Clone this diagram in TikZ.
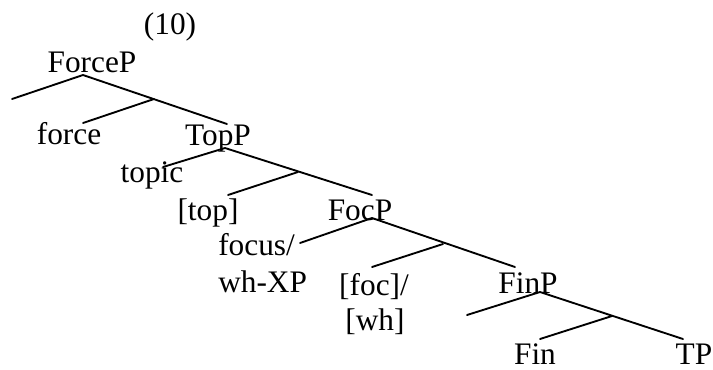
\documentclass[tikz,border=0pt]{standalone}
\usepackage{fontspec}
\setmainfont{Liberation Serif}
\begin{document}
\begin{tikzpicture}[x=0.75pt,y=-0.75pt,
  lbl/.style={inner sep=0pt,anchor=base,font=\fontsize{23.5}{28}\selectfont},
  lblw/.style={lbl,anchor=base west},
  branch/.style={line width=1.4pt,line cap=round}]
\useasboundingbox (0,0) rectangle (713,369);

% labels
\node[lbl] (ex)     at (170,34)  {(10)};
\node[lbl] (forcep) at (92,72)   {ForceP};
\node[lbl] (force)  at (69,144)  {force};
\node[lbl] (topp)   at (218,145) {TopP};
\node[lbl] (topic)  at (152,182) {topic};
\node[lbl] (top)    at (208,220) {[top]};
\node[lbl] (focp)   at (360,220) {FocP};
\node[lblw] (focus) at (218,255) {focus/};
\node[lblw] (whxp)  at (218,292) {wh-XP};
\node[lbl] (foc)    at (374,295) {[foc]/};
\node[lbl] (wh)     at (375,330) {[wh]};
\node[lbl] (finp)   at (528,293) {FinP};
\node[lbl] (fin)    at (535,364) {Fin};
\node[lbl] (tp)     at (694,364) {TP};

% branching points
\coordinate (forceA) at (83,75);
\coordinate (forceS) at (12,99);
\coordinate (forceB) at (154,99);
\coordinate (forceH) at (83,123);
\coordinate (forceC) at (227,124);

\coordinate (topA) at (225,148);
\coordinate (topS) at (163,167);
\coordinate (topB) at (298,172);
\coordinate (topH) at (228,195);
\coordinate (topC) at (372,195);

\coordinate (focA) at (372,218);
\coordinate (focS) at (300,243);
\coordinate (focB) at (443,244);
\coordinate (focH) at (372,267);
\coordinate (focC) at (515,267);

\coordinate (finA) at (540,292);
\coordinate (finS) at (467,315);
\coordinate (finB) at (612,316);
\coordinate (finH) at (540,339);
\coordinate (finC) at (683,339);

% branches
\draw[branch] (forceS) -- (forceA) -- (forceC);
\draw[branch] (forceB) -- (forceH);
\draw[branch] (topS) -- (topA) -- (topC);
\draw[branch] (topB) -- (topH);
\draw[branch] (focS) -- (focA) -- (focC);
\draw[branch] (focB) -- (focH);
\draw[branch] (finS) -- (finA) -- (finC);
\draw[branch] (finB) -- (finH);
\end{tikzpicture}
\end{document}
